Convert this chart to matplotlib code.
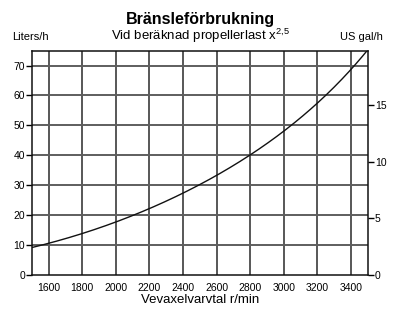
import matplotlib
matplotlib.use("Agg")
import matplotlib.pyplot as plt
import numpy as np

plt.rcParams['font.family'] = ['Liberation Sans', 'DejaVu Sans']
plt.rcParams['mathtext.fontset'] = 'custom'
plt.rcParams['mathtext.rm'] = 'Liberation Sans'
plt.rcParams['mathtext.it'] = 'Liberation Sans'
plt.rcParams['mathtext.default'] = 'regular'

rpm = [1500, 1600, 1800, 2000, 2200, 2400, 2600, 2800, 3000, 3200, 3400, 3500]
liters = [9.1, 10.5, 13.8, 17.7, 22.2, 27.2, 33.3, 40.0, 48.1, 57.5, 69.3, 74.8]
x_ticks = [1600, 1800, 2000, 2200, 2400, 2600, 2800, 3000, 3200, 3400]
y_ticks = [0, 10, 20, 30, 40, 50, 60, 70]
gal_ticks = [0, 5, 10, 15]
L_PER_GAL = 3.785

fig = plt.figure(figsize=(4.01, 3.16), dpi=100)
ax = fig.add_axes([0.0796, 0.1307, 0.9172 - 0.0796, 0.8396 - 0.1307])

# smooth curve through read points
xs = np.linspace(rpm[0], rpm[-1], 300)
coef = np.polyfit(rpm, np.log(liters), 3)
ys = np.exp(np.polyval(coef, xs))
ax.plot(xs, ys, color='#111111', lw=1.0, zorder=3)

ax.set_xlim(1500, 3500)
ax.set_ylim(0, 75)
for xv in x_ticks:
    ax.axvline(xv, color='#2a2a2a', lw=1.1, zorder=1)
for yv in y_ticks[1:]:
    ax.axhline(yv, color='#5e5e5e', lw=1.4, zorder=1)

ax.set_xticks(x_ticks)
ax.set_xticklabels([str(v) for v in x_ticks], fontsize=7.5)
ax.tick_params(axis='x', length=0, pad=6)
ax.set_yticks(y_ticks)
ax.set_yticklabels([str(v) for v in y_ticks], fontsize=7.5)
ax.tick_params(axis='y', length=4, width=1, direction='out', pad=1)
for s in ax.spines.values():
    s.set_color('#111111')
    s.set_linewidth(1.1)

ax2 = ax.twinx()
ax2.set_ylim(0, 75 / L_PER_GAL)
ax2.set_yticks(gal_ticks)
ax2.set_yticklabels([str(v) for v in gal_ticks], fontsize=7.5)
ax2.tick_params(axis='y', length=4, width=1, direction='out', pad=1)
for s in ax2.spines.values():
    s.set_visible(False)

ax.set_xlabel('Vevaxelvarvtal r/min', fontsize=9.5, labelpad=1)

fig.text(0.5, 0.925, 'Bränsleförbrukning', ha='center', va='baseline', fontsize=11.5, fontweight='bold')
fig.text(0.5, 0.874, r'Vid beräknad propellerlast x$^{2{,}5}$', ha='center', va='baseline', fontsize=9.5)
fig.text(0.03, 0.872, 'Liters/h', ha='left', va='baseline', fontsize=8)
fig.text(0.955, 0.872, 'US gal/h', ha='right', va='baseline', fontsize=8)

fig.savefig('out.png', dpi=100)
